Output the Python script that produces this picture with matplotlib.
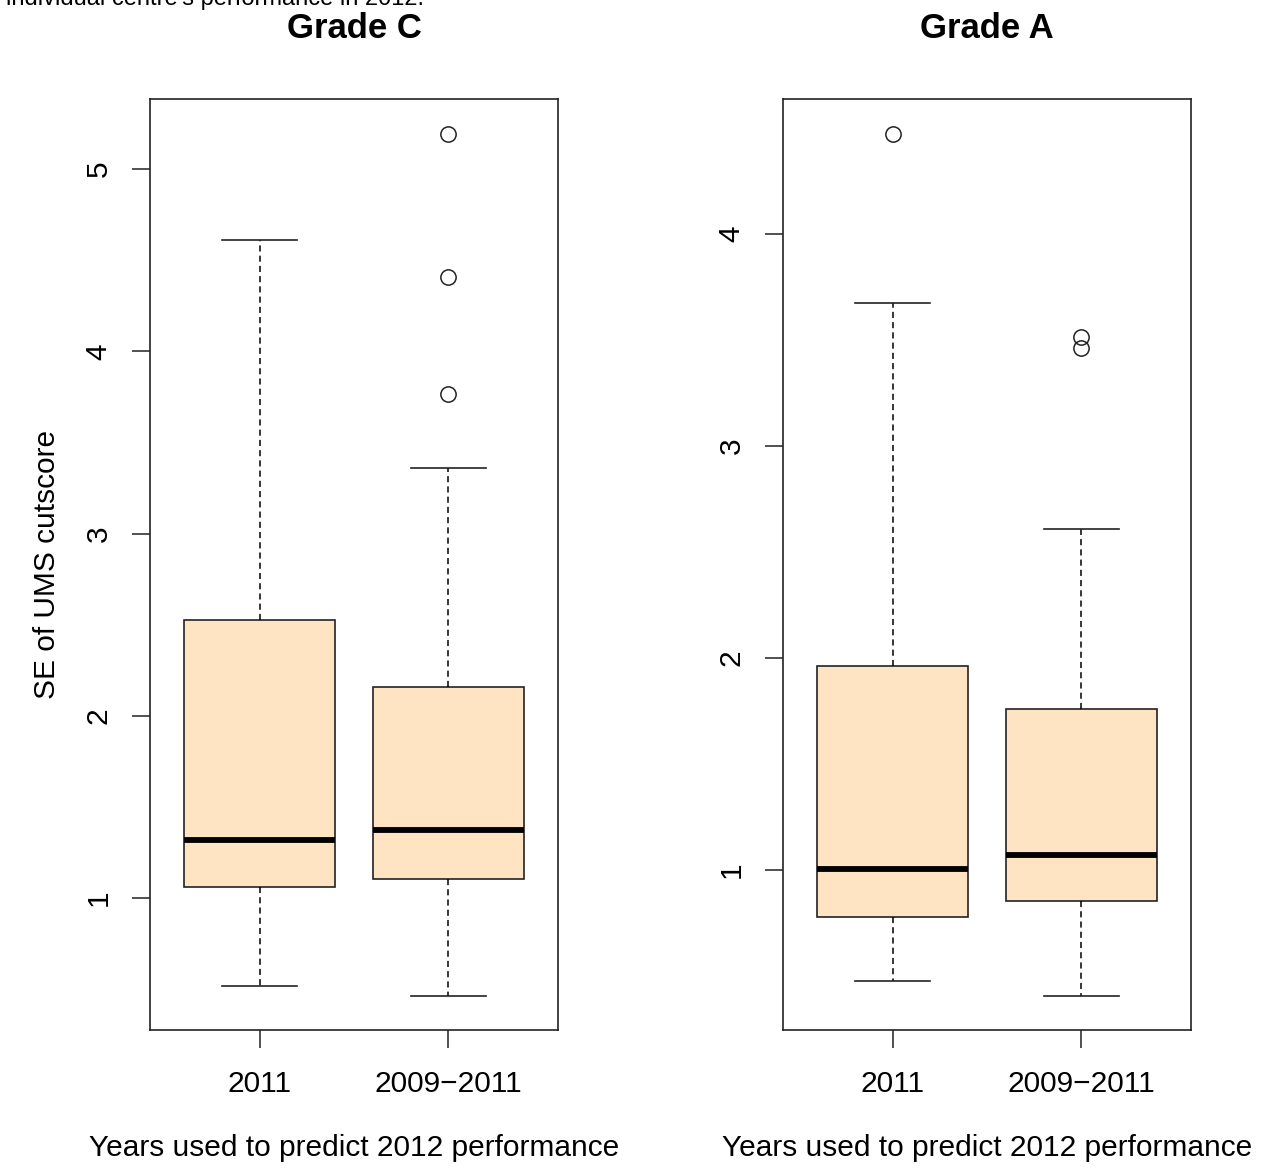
import matplotlib
matplotlib.use('Agg')
import matplotlib.pyplot as plt

plt.rcParams['font.family'] = ['Liberation Sans', 'DejaVu Sans']

# Boxplot summaries
groups = ["2011", "2009\u22122011"]

# Grade C
c_whislo = [0.517, 0.462]
c_q1 = [1.06, 1.104]
c_med = [1.319, 1.374]
c_q3 = [2.526, 2.158]
c_whishi = [4.61, 3.36]
c_fliers = [[], [5.19, 4.41, 3.766]]

# Grade A
a_whislo = [0.476, 0.406]
a_q1 = [0.778, 0.854]
a_med = [1.005, 1.071]
a_q3 = [1.962, 1.76]
a_whishi = [3.675, 2.608]
a_fliers = [[4.47], [3.514, 3.462]]

W, H = 1266, 1176
fig = plt.figure(figsize=(W / 100, H / 100), dpi=100)

LAB = 21.5


def panel(left, title, whislo, q1, med, q3, whishi, fliers, ylim, yticks, ylabel=None):
    ax = fig.add_axes([left / W, 1 - 1030 / H, 408 / W, 931 / H])
    stats = []
    for i in range(len(groups)):
        stats.append(dict(whislo=whislo[i], q1=q1[i], med=med[i], q3=q3[i],
                          whishi=whishi[i], fliers=fliers[i], label=groups[i]))
    ax.bxp(stats, positions=[1, 2], widths=0.8, patch_artist=True,
           boxprops=dict(facecolor='#FFE4C4', edgecolor='#222222', linewidth=1.2),
           medianprops=dict(color='black', linewidth=4.2, solid_capstyle='butt'),
           whiskerprops=dict(color='black', linewidth=1.1, linestyle=(0, (4, 2.7))),
           capprops=dict(color='#222222', linewidth=1.2),
           capwidths=0.4,
           flierprops=dict(marker='o', markerfacecolor='none', markeredgecolor='#222222',
                           markersize=11, markeredgewidth=1.1))
    ax.set_xlim(0.42, 2.58)
    ax.set_ylim(*ylim)
    ax.set_yticks(yticks)
    ax.set_yticklabels([str(t) for t in yticks], rotation=90, va='center')
    ax.tick_params(axis='both', length=13, width=1.1, color='#222222', labelsize=LAB)
    ax.tick_params(axis='y', pad=14)
    ax.tick_params(axis='x', pad=16)
    for s in ax.spines.values():
        s.set_linewidth(1.2)
        s.set_color('#222222')
    ax.set_title(title, fontsize=25, fontweight='bold', pad=44)
    ax.set_xlabel('Years used to predict 2012 performance', fontsize=LAB, labelpad=26)
    if ylabel:
        ax.set_ylabel(ylabel, fontsize=LAB, labelpad=17)
    return ax


panel(150, 'Grade C', c_whislo, c_q1, c_med, c_q3, c_whishi, c_fliers,
      (0.276, 5.384), [1, 2, 3, 4, 5], ylabel='SE of UMS cutscore')
panel(783, 'Grade A', a_whislo, a_q1, a_med, a_q3, a_whishi, a_fliers,
      (0.245, 4.637), [1, 2, 3, 4])

fig.text(6 / W, 1 - 5 / H, "individual centre's performance in 2012.",
         fontsize=17, ha='left', va='baseline')

fig.savefig('out.png', dpi=100)
